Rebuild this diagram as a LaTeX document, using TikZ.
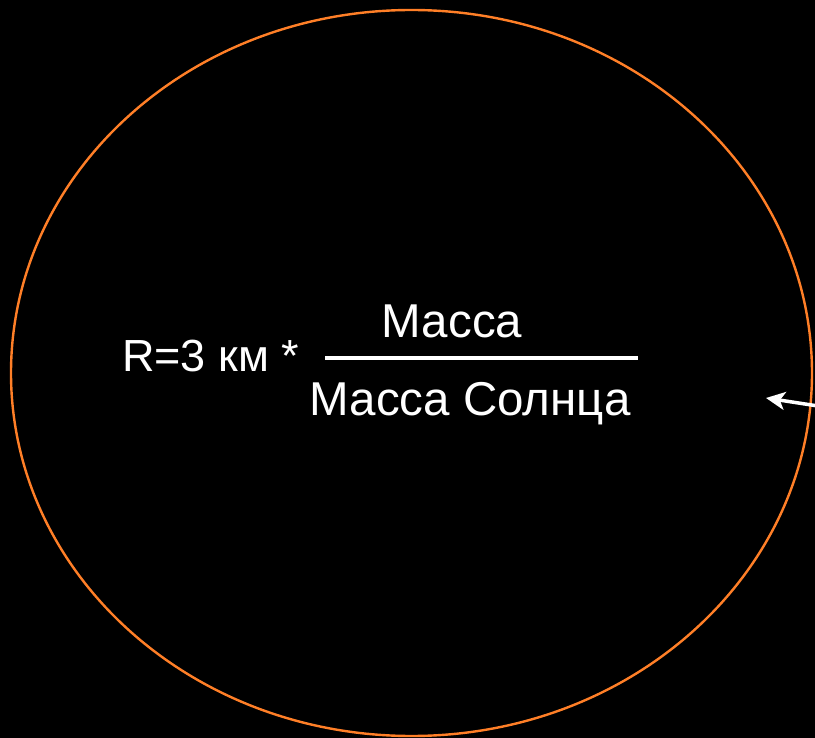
\documentclass[tikz,border=0pt]{standalone}
\usepackage{fontspec}
\setmainfont{Liberation Sans}
\usetikzlibrary{arrows.meta}
\definecolor{orb}{RGB}{255,127,39}
\tikzset{
  txt/.style={text=white, inner sep=0pt, font=\fontsize{47.5}{47.5}\selectfont},
  txtr/.style={text=white, inner sep=0pt, font=\fontsize{45}{45}\selectfont},
  orbit/.style={draw=orb, line width=2.4pt},
  pointer/.style={draw=white, line width=3.5pt, -{Stealth[length=19pt,width=18pt,inset=5pt]}},
  bar/.style={draw=white, line width=4pt}
}
\begin{document}
\begin{tikzpicture}[x=1pt,y=-1pt]
\fill[black] (0,0) rectangle (815,738);
\useasboundingbox (0,0) rectangle (815,738);
\draw[orbit] (411.5,373) ellipse [x radius=400.5, y radius=363];
\node[txtr, anchor=base west] (r) at (122,372) {R=3 км *};
\coordinate (fl) at (325,358);
\coordinate (fr) at (638,358);
\draw[bar] (fl) -- (fr);
\node[txt, anchor=base] (num) at (452,338) {Масса};
\node[txt, anchor=base] (den) at (470,416) {Масса Солнца};
\coordinate (as) at (818,406);
\coordinate (ae) at (766,398);
\draw[pointer] (as) -- (ae);
\end{tikzpicture}
\end{document}
